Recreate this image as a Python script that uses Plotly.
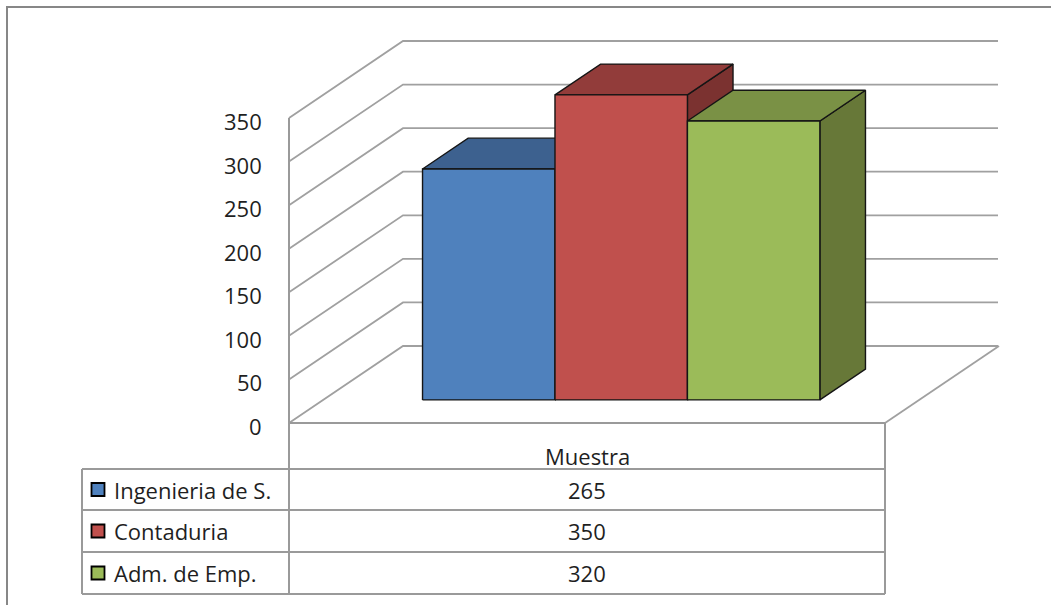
import plotly.graph_objects as go

# ---- data ----
categories = ["Ingenieria de S.", "Contaduria", "Adm. de Emp."]
values = [265, 350, 320]
group_label = "Muestra"
y_ticks = [0, 50, 100, 150, 200, 250, 300, 350]
y_tick_text = [str(t) for t in y_ticks]

# ---- colours (front, top and right-hand faces of each column) ----
front_colors = ["#4F81BD", "#C0504D", "#9BBB59"]
top_colors = ["#3D618F", "#923C3A", "#7A9145"]
side_colors = ["#34547C", "#7B3230", "#677838"]
GRID = "#a0a0a0"
TEXT = "#1f1f1f"
FONT = "Open Sans"
FONT_SIZE = 22

# ---- page / 3D box geometry (pixels) ----
W, H = 1051, 605
AX_LEFT, AX_RIGHT = 289, 885          # front edge of the floor
FLOOR_Y = 423                          # pixel row of value 0 on the front plane
BACK_RIGHT = 998                       # right end of the back wall
DEPTH_DX_PX, DEPTH_DY_PX = 114, 77     # oblique depth offset
PX_PER_UNIT = 305 / 350                # vertical pixels per value unit

XU = AX_RIGHT - AX_LEFT                # pixels per category unit
DX = DEPTH_DX_PX / XU                  # depth offset in x units
DY = DEPTH_DY_PX / PX_PER_UNIT         # depth offset in value units


def ux(px):
    """pixel column -> x-axis units"""
    return (px - AX_LEFT) / XU


def vy(py):
    """pixel row -> y-axis (value) units"""
    return (FLOOR_Y - py) / PX_PER_UNIT


fig = go.Figure()


def poly(xs, ys, fill=None, line_color=GRID, width=1.8):
    fig.add_trace(go.Scatter(
        x=xs, y=ys, mode="lines",
        fill="toself" if fill else None,
        fillcolor=fill,
        line=dict(color=line_color, width=width),
        hoverinfo="skip", showlegend=False,
    ))


# ---- walls and floor ----
back_end = ux(BACK_RIGHT)
for t in y_ticks:
    poly([0, DX, back_end], [t, t + DY, t + DY])
# floor right edge
poly([1, 1 + DX], [0, DY])

# ---- columns (left to right so each front face hides the previous side) ----
GAP = 1.5
bw = 1 / (len(values) + GAP)
start = GAP / 2 * bw
d_front, d_back = 0.3, 0.7
ddx, ddy = (d_back - d_front) * DX, (d_back - d_front) * DY
for i, val in enumerate(values):
    x0 = start + i * bw + d_front * DX
    x1 = x0 + bw
    b = d_front * DY
    t = val + d_front * DY
    edge = "#151515"
    poly([x1, x1 + ddx, x1 + ddx, x1, x1], [b, b + ddy, t + ddy, t, b],
         fill=side_colors[i], line_color=edge, width=1.4)
    poly([x0, x1, x1 + ddx, x0 + ddx, x0], [t, t, t + ddy, t + ddy, t],
         fill=top_colors[i], line_color=edge, width=1.4)
    poly([x0, x1, x1, x0, x0], [b, b, t, t, b],
         fill=front_colors[i], line_color=edge, width=1.4)

# ---- data table ----
TABLE_LEFT = 82
HEADER_BOTTOM = 469
ROW_LINES = [469, 510, 552, 594]
TBL = "#9a9a9a"
poly([0, 1], [0, 0], line_color=TBL, width=2)
for r in ROW_LINES:
    poly([ux(TABLE_LEFT), 1], [vy(r), vy(r)], line_color=TBL, width=2)
poly([0, 0], [y_ticks[-1], vy(ROW_LINES[-1])], line_color=TBL, width=2)
poly([1, 1], [0, vy(ROW_LINES[-1])], line_color=TBL, width=2)
poly([ux(TABLE_LEFT)] * 2, [vy(HEADER_BOTTOM), vy(ROW_LINES[-1])],
     line_color=TBL, width=2)

row_centers = [(ROW_LINES[k] + ROW_LINES[k + 1]) / 2 for k in range(len(categories))]
fig.add_trace(go.Scatter(
    x=[ux(98)] * len(categories),
    y=[vy(c) for c in row_centers],
    mode="markers",
    marker=dict(symbol="square", size=13, color=front_colors,
                line=dict(color="#000000", width=1.8)),
    hoverinfo="skip", showlegend=False,
))

txt_font = dict(family=FONT, size=FONT_SIZE, color=TEXT)

# value axis labels on the front plane
annotations = [dict(
    x=ux(264), y=t, xref="x", yref="y", text=lbl, yshift=-3,
    showarrow=False, xanchor="right", yanchor="middle", font=txt_font,
) for t, lbl in zip(y_ticks, y_tick_text)]

annotations.append(dict(
    x=0.5, y=vy(456), xref="x", yref="y", text=group_label,
    showarrow=False, xanchor="center", yanchor="middle", font=txt_font,
))
for k, (cat, val) in enumerate(zip(categories, values)):
    annotations.append(dict(
        x=ux(112), y=vy(row_centers[k]), xref="x", yref="y", text=cat,
        showarrow=False, xanchor="left", yanchor="middle", font=txt_font,
    ))
    annotations.append(dict(
        x=0.5, y=vy(row_centers[k]), xref="x", yref="y", text=str(val),
        showarrow=False, xanchor="center", yanchor="middle", font=txt_font,
    ))

# ---- chart area border (top and left edges) ----
shapes = [dict(
    type="path", xref="paper", yref="paper",
    path=f"M {7/W} 0 L {7/W} {1-7/H} L 1 {1-7/H}",
    line=dict(color="#878787", width=2),
)]

fig.update_layout(
    width=W, height=H, autosize=False,
    margin=dict(l=0, r=0, t=0, b=0),
    paper_bgcolor="white", plot_bgcolor="white",
    showlegend=False, hovermode=False,
    xaxis=dict(range=[ux(0), ux(W)], visible=False, fixedrange=True),
    yaxis=dict(range=[vy(H), vy(0)], visible=False, fixedrange=True),
    annotations=annotations,
    shapes=shapes,
)

fig.write_html("out.html")
